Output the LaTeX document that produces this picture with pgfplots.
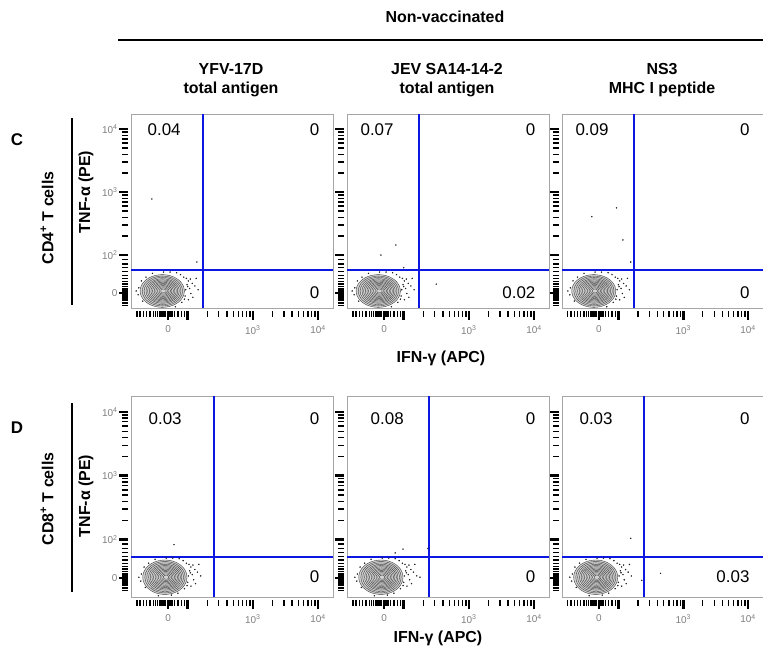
\documentclass[border=0pt]{standalone}
\usepackage{pgfplots}
\pgfplotsset{compat=1.18}
\usepackage{pgfplotstable}
\usepackage{fontspec}
\setmainfont{Liberation Sans}
\definecolor{gateblue}{RGB}{12,24,226}

\pgfplotstableread{
c s
1 0
0.9659 0.2588
0.8660 0.5
0.7071 0.7071
0.5 0.8660
0.2588 0.9659
0 1
-0.2588 0.9659
-0.5 0.8660
-0.7071 0.7071
-0.8660 0.5
-0.9659 0.2588
-1 0
-0.9659 -0.2588
-0.8660 -0.5
-0.7071 -0.7071
-0.5 -0.8660
-0.2588 -0.9659
0 -1
0.2588 -0.9659
0.5 -0.8660
0.7071 -0.7071
0.8660 -0.5
0.9659 -0.2588
1 0
}\unitcircle

\pgfplotstableread{
dx dy
0.36 0.02
0.38 0.10
0.35 -0.08
0.40 0.16
0.42 0.04
0.44 -0.04
0.37 0.20
0.46 0.12
0.50 0.08
0.33 0.22
0.28 0.26
0.22 0.29
0.12 0.30
0.02 0.30
0.47 -0.10
0.52 0.20
0.30 -0.18
0.40 -0.14
0.55 0.02
-0.36 0.05
-0.37 -0.06
-0.32 0.16
-0.30 -0.16
-0.40 0.00
-0.15 0.28
-0.25 0.22
0.10 -0.28
-0.10 -0.29
0.20 -0.25
0.39 0.07
0.43 0.19
0.34 -0.13
}\edgedots

\newcommand\blob[4]{%
  \addplot[draw=none, fill=gray!35, smooth] table[x expr={#1+#3*\thisrow{c}}, y expr={#2+#4*\thisrow{s}}]{\unitcircle};
  \pgfplotsinvokeforeach{1.0,0.91,0.83,0.75,0.68,0.61,0.54,0.47,0.40,0.33,0.26,0.19,0.12}{%
    \addplot[gray!50!black, line width=0.4bp, smooth] table[x expr={#1+0.02*(1-##1)+#3*##1*\thisrow{c}}, y expr={#2+#4*##1*\thisrow{s}}]{\unitcircle};}%
  \addplot[only marks, mark=*, mark size=0.5bp, gray!25!black] table[x expr={#1+\thisrow{dx}}, y expr={#2+\thisrow{dy}}]{\edgedots};
}

\tikzset{num/.style={font=\fontsize{17}{17}\selectfont}}

\pgfplotsset{
  flow/.style={
    scale only axis, width=202bp,
    xmin=1.13, xmax=4.23,
    axis line style={gray!70, line width=0.8bp},
    tick align=outside,
    xtick pos=left, ytick pos=left,
    xtick={1.7,2,3,4},
    xticklabels={0,,10\textsuperscript{3},10\textsuperscript{4}},
    minor xtick={1.22,1.27,1.32,1.37,1.42,1.47,1.51,1.54,1.57,1.585,1.6,1.615,1.63,1.645,1.66,1.73,1.76,1.8,1.85,1.9,1.95,
      2.301,2.477,2.602,2.699,2.778,2.845,2.903,2.954,3.301,3.477,3.602,3.699,3.778,3.845,3.903,3.954},
    ytick={1.4,2,3,4},
    yticklabels={,,,},
    minor ytick={1.2,1.24,1.28,1.30,1.32,1.34,1.36,1.38,1.42,1.44,1.46,1.5,1.54,1.58,1.63,1.68,1.74,1.8,1.86,1.93,
      2.301,2.477,2.602,2.699,2.778,2.845,2.903,2.954,3.301,3.477,3.602,3.699,3.778,3.845,3.903,3.954},
    major tick length=9bp, minor tick length=6bp,
    every major tick/.append style={line width=2.6bp, black},
    every minor tick/.append style={line width=1.3bp, black},
    every major x tick/.append style={yshift=-3bp},
    every minor x tick/.append style={yshift=-3bp},
    every major y tick/.append style={xshift=-3bp},
    every minor y tick/.append style={xshift=-3bp},
    tick label style={font=\fontsize{10}{10}\selectfont, text=gray},
    xticklabel style={yshift=-5bp},
    yticklabel style={xshift=-1bp},
    anchor=north west,
  },
  rowC/.style={flow, height=194bp, ymin=1.16, ymax=4.24},
  rowD/.style={flow, height=201bp, ymin=1.10, ymax=4.25},
  ylab/.style={yticklabels={0,10\textsuperscript{2},10\textsuperscript{3},10\textsuperscript{4}}},
  gate/.style={gateblue, line width=1.8bp},
}
\newcommand\lab{\fontsize{16}{19}\selectfont\bfseries}

\begin{document}
\begin{tikzpicture}
\useasboundingbox (0,0) rectangle (763bp,651bp);

% ---------- Row C ----------
\begin{axis}[rowC, ylab, at={(131bp,537bp)}]
  \blob{1.61}{1.43}{0.34}{0.26}
  \addplot[only marks, mark=*, mark size=0.5bp, gray!30!black] coordinates {(1.45,2.89) (2.14,1.89)};
  \addplot[gate] coordinates {(2.24,1.16) (2.24,4.24)};
  \addplot[gate] coordinates {(1.13,1.76) (4.23,1.76)};
  \node[num, anchor=west] at (rel axis cs:0.065,0.92) {0.04};
  \node[num, anchor=east] at (rel axis cs:0.95,0.92) {0};
  \node[num, anchor=east] at (rel axis cs:0.95,0.077) {0};
\end{axis}
\begin{axis}[rowC, at={(347bp,537bp)}]
  \blob{1.61}{1.43}{0.34}{0.26}
  \addplot[only marks, mark=*, mark size=0.5bp, gray!30!black] coordinates {(1.88,2.16) (1.65,2.0) (2.0,1.8) (2.5,1.54)};
  \addplot[gate] coordinates {(2.23,1.16) (2.23,4.24)};
  \addplot[gate] coordinates {(1.13,1.76) (4.23,1.76)};
  \node[num, anchor=west] at (rel axis cs:0.05,0.92) {0.07};
  \node[num, anchor=east] at (rel axis cs:0.95,0.92) {0};
  \node[num, anchor=east] at (rel axis cs:0.95,0.077) {0.02};
\end{axis}
\begin{axis}[rowC, width=201bp, at={(562bp,537bp)}]
  \blob{1.62}{1.43}{0.34}{0.26}
  \addplot[only marks, mark=*, mark size=0.5bp, gray!30!black] coordinates {(1.59,2.61) (1.97,2.75) (2.07,2.24) (2.19,1.89)};
  \addplot[gate] coordinates {(2.24,1.16) (2.24,4.24)};
  \addplot[gate] coordinates {(1.13,1.76) (4.23,1.76)};
  \node[num, anchor=west] at (rel axis cs:0.05,0.92) {0.09};
  \node[num, anchor=east] at (rel axis cs:0.95,0.92) {0};
  \node[num, anchor=east] at (rel axis cs:0.95,0.077) {0};
\end{axis}

% ---------- Row D ----------
\begin{axis}[rowD, ylab, at={(131bp,255bp)}]
  \blob{1.65}{1.41}{0.34}{0.27}
  \addplot[only marks, mark=*, mark size=0.5bp, gray!30!black] coordinates {(1.79,1.92)};
  \addplot[gate] coordinates {(2.40,1.10) (2.40,4.25)};
  \addplot[gate] coordinates {(1.13,1.73) (4.23,1.73)};
  \node[num, anchor=west] at (rel axis cs:0.07,0.886) {0.03};
  \node[num, anchor=east] at (rel axis cs:0.95,0.886) {0};
  \node[num, anchor=east] at (rel axis cs:0.95,0.10) {0};
\end{axis}
\begin{axis}[rowD, at={(347bp,255bp)}]
  \blob{1.65}{1.41}{0.34}{0.27}
  \addplot[only marks, mark=*, mark size=0.5bp, gray!30!black] coordinates {(1.99,1.85) (2.37,1.86) (1.87,1.79) (2.25,1.41)};
  \addplot[gate] coordinates {(2.39,1.10) (2.39,4.25)};
  \addplot[gate] coordinates {(1.13,1.73) (4.23,1.73)};
  \node[num, anchor=west] at (rel axis cs:0.10,0.886) {0.08};
  \node[num, anchor=east] at (rel axis cs:0.95,0.886) {0};
  \node[num, anchor=east] at (rel axis cs:0.95,0.10) {0};
\end{axis}
\begin{axis}[rowD, width=201bp, at={(562bp,255bp)}]
  \blob{1.65}{1.41}{0.34}{0.27}
  \addplot[only marks, mark=*, mark size=0.5bp, gray!30!black] coordinates {(2.19,2.02) (2.65,1.47) (2.36,1.36)};
  \addplot[gate] coordinates {(2.40,1.10) (2.40,4.25)};
  \addplot[gate] coordinates {(1.13,1.73) (4.23,1.73)};
  \node[num, anchor=west] at (rel axis cs:0.07,0.886) {0.03};
  \node[num, anchor=east] at (rel axis cs:0.95,0.886) {0};
  \node[num, anchor=east] at (rel axis cs:0.95,0.10) {0.03};
\end{axis}

% ---------- Labels ----------
\node[font=\lab] at (445bp,634bp) {Non-vaccinated};
\draw[line width=2.5bp] (118bp,611bp) -- (763bp,611bp);
\node[font=\lab, align=center] at (231bp,571bp) {YFV-17D\\total antigen};
\node[font=\lab, align=center] at (447bp,571bp) {JEV SA14-14-2\\total antigen};
\node[font=\lab, align=center] at (662bp,571bp) {NS3\\MHC I peptide};

\node[font=\fontsize{17}{17}\selectfont\bfseries] at (17bp,511bp) {C};
\node[font=\fontsize{17}{17}\selectfont\bfseries] at (17bp,223bp) {D};

\node[font=\lab, rotate=90] at (47bp,433bp) {CD4\textsuperscript{+} T cells};
\node[font=\lab, rotate=90] at (86bp,459bp) {TNF-α (PE)};
\draw[line width=2.5bp] (72bp,533bp) -- (72bp,346bp);

\node[font=\lab, rotate=90] at (47bp,152bp) {CD8\textsuperscript{+} T cells};
\node[font=\lab, rotate=90] at (86bp,155bp) {TNF-α (PE)};
\draw[line width=2.5bp] (72bp,248bp) -- (72bp,59bp);

\node[font=\lab] at (441bp,293bp) {IFN-γ (APC)};
\node[font=\lab] at (438bp,13bp) {IFN-γ (APC)};
\end{tikzpicture}
\end{document}
